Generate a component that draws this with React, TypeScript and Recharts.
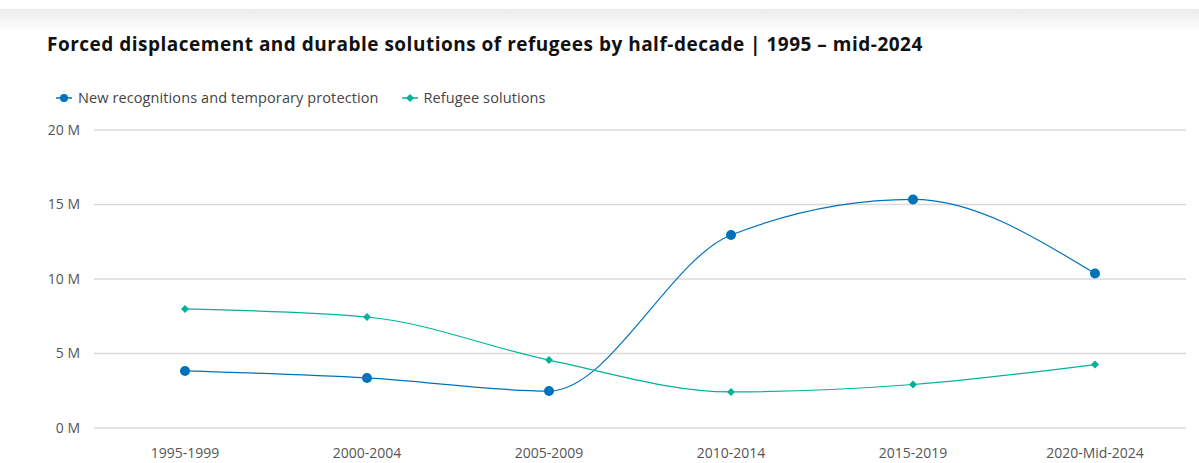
import React from 'react';
import { LineChart, Line, XAxis, YAxis, CartesianGrid } from 'recharts';

const categories = ['1995-1999', '2000-2004', '2005-2009', '2010-2014', '2015-2019', '2020-Mid-2024'];
const newRecognitions = [3.83, 3.36, 2.48, 12.95, 15.34, 10.37];
const refugeeSolutions = [7.99, 7.45, 4.56, 2.42, 2.92, 4.26];
const yTicks = [0, 5, 10, 15, 20];

const BLUE = '#0072bc';
const TEAL = '#00b398';
const FONT = '"Open Sans", Lato, sans-serif';

const data = categories.map((c, i) => ({
  cat: c,
  newRec: newRecognitions[i],
  solutions: refugeeSolutions[i],
}));

const Diamond = (props: any) => {
  const { cx, cy, fill } = props;
  if (cx == null || cy == null) return null;
  const s = 4;
  return <path d={`M${cx},${cy - s}L${cx + s},${cy}L${cx},${cy + s}L${cx - s},${cy}Z`} fill={fill} />;
};

const LegendBox = () => (
  <div style={{ position: 'absolute', left: 56, top: 88, display: 'flex', alignItems: 'center', fontFamily: FONT, fontSize: 14.5, letterSpacing: 0.1, color: '#444', whiteSpace: 'nowrap' }}>
    <svg width={16} height={10} style={{ marginRight: 6 }}>
      <line x1={0} y1={5} x2={16} y2={5} stroke={BLUE} strokeWidth={1.5} />
      <circle cx={8} cy={5} r={4} fill={BLUE} />
    </svg>
    <span style={{ marginRight: 23 }}>New recognitions and temporary protection</span>
    <svg width={16} height={10} style={{ marginRight: 6 }}>
      <line x1={0} y1={5} x2={16} y2={5} stroke={TEAL} strokeWidth={1.5} />
      <path d="M8,1L12,5L8,9L4,5Z" fill={TEAL} />
    </svg>
    <span>Refugee solutions</span>
  </div>
);

export default function App() {
  return (
    <div style={{ position: 'absolute', left: 0, top: 0, width: 1199, height: 463, background: '#fff', overflow: 'hidden' }}>
      <div style={{ position: 'absolute', left: 0, top: 9, width: 1199, height: 24, background: 'linear-gradient(#ececec, #ffffff)' }} />
      <div style={{ position: 'absolute', left: 47, top: 31, fontFamily: FONT, fontWeight: 700, fontSize: 19, letterSpacing: 0.5, color: '#111', whiteSpace: 'nowrap' }}>
        Forced displacement and durable solutions of refugees by half-decade | 1995 – mid-2024
      </div>
      <LegendBox />
      <div style={{ position: 'absolute', left: 0, top: 0 }}>
        <LineChart width={1199} height={463} data={data} margin={{ top: 130, right: 13, bottom: 5, left: 0 }}>
          <CartesianGrid vertical={false} stroke="#d9d9d9" strokeWidth={1.5} />
          <XAxis
            dataKey="cat"
            axisLine={false}
            tickLine={false}
            height={30}
            tickMargin={14}
            padding={{ left: 91, right: 91 }}
            tick={{ fill: '#555', fontSize: 14, fontFamily: FONT }}
            interval={0}
          />
          <YAxis
            width={94}
            domain={[0, 20]}
            ticks={yTicks}
            axisLine={false}
            tickLine={false}
            tickMargin={8}
            tickFormatter={(v: number) => `${v} M`}
            tick={{ fill: '#555', fontSize: 14, fontFamily: FONT }}
          />
          <Line
            type="monotone"
            dataKey="newRec"
            stroke={BLUE}
            strokeWidth={1.2}
            dot={{ r: 5, fill: BLUE, stroke: BLUE, strokeWidth: 0 }}
            activeDot={false}
            isAnimationActive={false}
          />
          <Line
            type="monotone"
            dataKey="solutions"
            stroke={TEAL}
            strokeWidth={1.2}
            dot={<Diamond fill={TEAL} />}
            activeDot={false}
            isAnimationActive={false}
          />
        </LineChart>
      </div>
    </div>
  );
}
